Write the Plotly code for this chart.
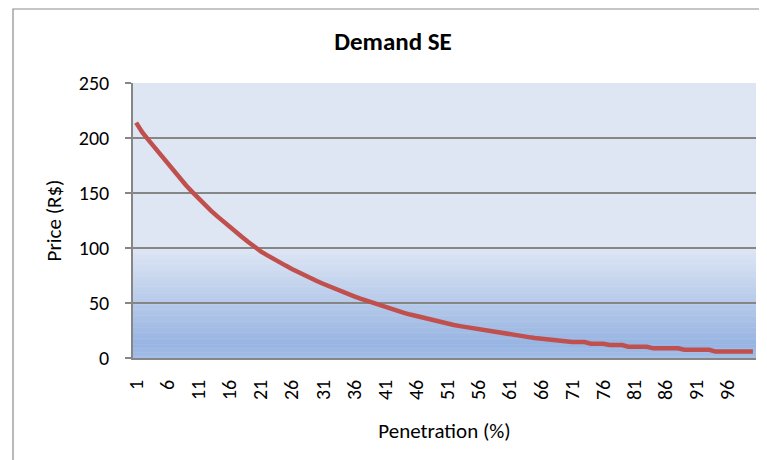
import plotly.graph_objects as go

# ---- data ----
penetration = list(range(1, 101))
price = [
    214, 205, 198, 191, 184, 177, 170, 163, 157, 151,
    145, 139.5, 134, 129, 124, 119, 114, 110, 105.5, 101,
    97, 93.5, 90, 87, 84, 81, 78, 75, 72.5, 70,
    67.5, 65, 62.5, 60, 58, 56, 54, 52, 50, 48,
    46.2, 44.4, 42.7, 41, 39.5, 38, 36.5, 35, 33.7, 32.4,
    31.2, 30, 29, 28, 27, 26, 25, 24, 23, 22,
    21.3, 20.5, 19.7, 19, 18.2, 17.5, 16.8, 16, 15.3, 15,
    14.5, 14.5, 14.5, 13, 13, 13, 11.8, 11.8, 11.8, 10.2,
    10.2, 10.2, 10.2, 8.8, 8.8, 8.8, 8.8, 8.8, 7.5, 7.5,
    7.5, 7.5, 7.5, 5.8, 5.8, 5.8, 5.8, 5.8, 5.8, 5.8,
]
tick_vals = list(range(1, 101, 5))
y_ticks = [0, 50, 100, 150, 200, 250]

FONT = "Carlito, Calibri, Lato, sans-serif"

fig = go.Figure()
fig.add_trace(go.Scatter(
    x=penetration, y=price, mode="lines",
    line=dict(color="#c0504d", width=4.5),
    showlegend=False, hoverinfo="skip",
))

# ---- gradient plot-area background (stripes) ----
def lerp(c1, c2, t):
    return "#%02x%02x%02x" % tuple(round(a + (b - a) * t) for a, b in zip(c1, c2))

top = (0xDE, 0xE6, 0xF4)
mid = (0x97, 0xB4, 0xE2)
bot = (0xA2, 0xBC, 0xE6)
shapes = []
shapes.append(dict(type="rect", xref="x domain", yref="y domain", x0=0, x1=1,
                   y0=100 / 250, y1=1, fillcolor=lerp(top, top, 0), line_width=0, layer="below"))
n = 80
for i in range(n):
    v0 = 12 + (100 - 12) * i / n
    v1 = 12 + (100 - 12) * (i + 1) / n
    t = 1 - (i + 0.5) / n
    shapes.append(dict(type="rect", xref="x domain", yref="y domain", x0=0, x1=1,
                       y0=v0 / 250, y1=v1 / 250 + 0.002, fillcolor=lerp(top, mid, t),
                       line_width=0, layer="below"))
m = 10
for i in range(m):
    v0 = 12 * i / m
    v1 = 12 * (i + 1) / m
    t = 1 - (i + 0.5) / m
    shapes.append(dict(type="rect", xref="x domain", yref="y domain", x0=0, x1=1,
                       y0=v0 / 250, y1=v1 / 250 + 0.002, fillcolor=lerp(mid, bot, t),
                       line_width=0, layer="below"))

# outer chart border (page offset of 8px compensated in margins)
shapes.append(dict(type="rect", xref="paper", yref="paper",
                   x0=(13 - 133) / 623, x1=1.2, y0=-0.6, y1=(358 - 9) / 275,
                   line=dict(color="#8c8c8c", width=1.2), fillcolor="rgba(0,0,0,0)",
                   layer="below"))

W, H = 759, 452
fig.update_layout(
    width=W, height=H,
    margin=dict(l=125, r=11, t=75, b=102),
    paper_bgcolor="white", plot_bgcolor="rgba(0,0,0,0)",
    shapes=shapes,
    title=dict(text="<b>Demand SE</b>", x=385 / W, xanchor="center",
               y=1 - 33 / H, yanchor="middle",
               font=dict(family=FONT, size=25, color="black")),
    font=dict(family=FONT, size=20, color="black"),
)
fig.update_xaxes(
    range=[0.5, 100.5], tickmode="array", tickvals=tick_vals,
    ticktext=[str(v) for v in tick_vals], tickangle=-90,
    showgrid=False, zeroline=False, showline=True, linecolor="#868686", linewidth=1.5,
    ticks="", tickfont=dict(family=FONT, size=20), ticklabelstandoff=12,
    title=dict(text="Penetration (%)", font=dict(family=FONT, size=21), standoff=24),
)
fig.update_yaxes(
    range=[0, 250], tickmode="array", tickvals=y_ticks,
    showgrid=True, gridcolor="#868686", gridwidth=1.5, zeroline=False,
    showline=True, linecolor="#868686", linewidth=1.5,
    ticks="outside", ticklen=6, tickcolor="#868686", tickwidth=1.5,
    tickfont=dict(family=FONT, size=20), ticklabelstandoff=12,
    title=dict(text="Price (R$)", font=dict(family=FONT, size=21), standoff=11),
)
fig.write_html("out.html")
